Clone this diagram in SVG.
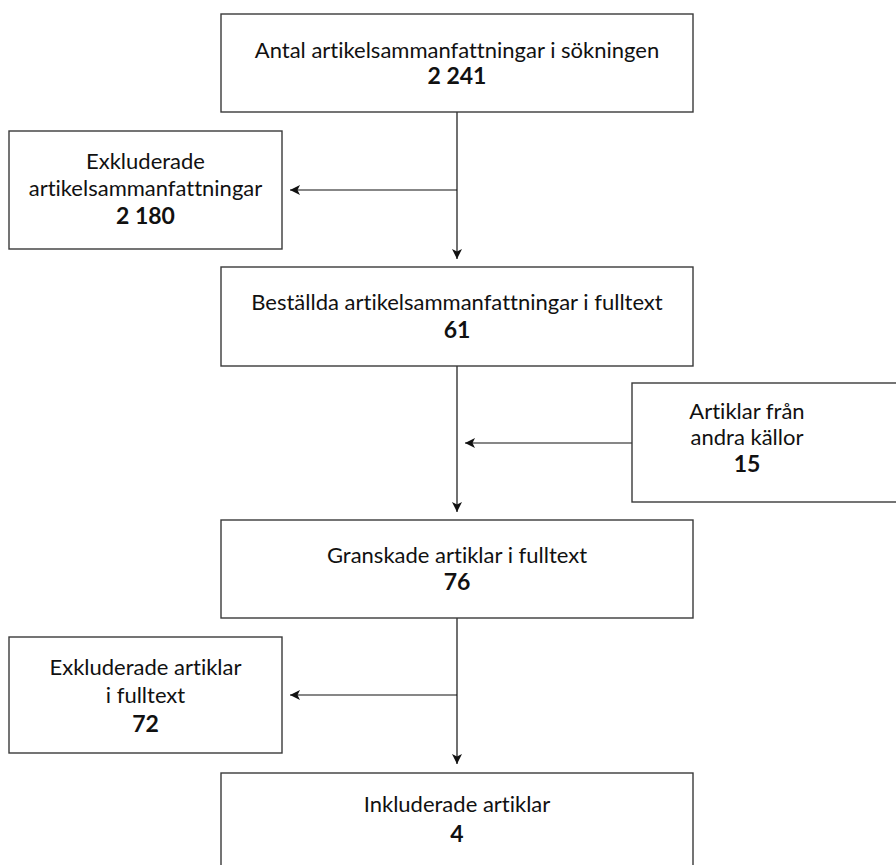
<svg xmlns="http://www.w3.org/2000/svg" width="896" height="865" viewBox="0 0 896 865">
<defs>
<style>
.box{fill:#fff;stroke:#3a3a3a;stroke-width:1.4}
.t{font-family:Lato,"Open Sans",sans-serif;font-size:22px;font-weight:normal;fill:#111;text-anchor:middle;font-variant-ligatures:none}
.n{font-family:Lato,"Open Sans",sans-serif;font-size:23px;font-weight:bold;fill:#111;text-anchor:middle}
.c{fill:none;stroke:#111;stroke-width:1.2}
</style>
<marker id="ah" viewBox="0 0 10 10" refX="10" refY="5" markerWidth="10" markerHeight="10" markerUnits="userSpaceOnUse" orient="auto">
<path d="M0,0 L10,5 L0,10 L2.5,5 z" fill="#111"/>
</marker>
</defs>
<rect width="896" height="865" fill="#fff"/>
<g id="connectors">
<line class="c" x1="457" y1="112" x2="457" y2="259" marker-end="url(#ah)"/>
<line class="c" x1="457" y1="190" x2="290" y2="190" marker-end="url(#ah)"/>
<line class="c" x1="457" y1="366" x2="457" y2="512" marker-end="url(#ah)"/>
<line class="c" x1="632" y1="443" x2="465" y2="443" marker-end="url(#ah)"/>
<line class="c" x1="457" y1="618" x2="457" y2="764" marker-end="url(#ah)"/>
<line class="c" x1="457" y1="695" x2="290" y2="695" marker-end="url(#ah)"/>
</g>
<g id="n1">
<rect class="box" x="221" y="14" width="472" height="98"/>
<text class="t" x="457" y="58">Antal artikelsammanfattningar i sökningen</text>
<text class="n" x="457" y="84">2 241</text>
</g>
<g id="n2">
<rect class="box" x="9" y="131" width="273" height="118"/>
<text class="t" x="145.5" y="169">Exkluderade</text>
<text class="t" x="145.5" y="196">artikelsammanfattningar</text>
<text class="n" x="145.5" y="224">2 180</text>
</g>
<g id="n3">
<rect class="box" x="221" y="267" width="472" height="99"/>
<text class="t" x="457" y="310">Beställda artikelsammanfattningar i fulltext</text>
<text class="n" x="457" y="338">61</text>
</g>
<g id="n4">
<rect class="box" x="632" y="383" width="270" height="119"/>
<text class="t" x="747" y="419">Artiklar från</text>
<text class="t" x="747" y="445">andra källor</text>
<text class="n" x="747" y="472">15</text>
</g>
<g id="n5">
<rect class="box" x="221" y="520" width="472" height="98"/>
<text class="t" x="457" y="563">Granskade artiklar i fulltext</text>
<text class="n" x="457" y="590">76</text>
</g>
<g id="n6">
<rect class="box" x="9" y="637" width="273" height="116"/>
<text class="t" x="145.5" y="675">Exkluderade artiklar</text>
<text class="t" x="145.5" y="703">i fulltext</text>
<text class="n" x="145.5" y="732">72</text>
</g>
<g id="n7">
<rect class="box" x="221" y="773" width="472" height="100"/>
<text class="t" x="457" y="812">Inkluderade artiklar</text>
<text class="n" x="457" y="842">4</text>
</g>
</svg>
